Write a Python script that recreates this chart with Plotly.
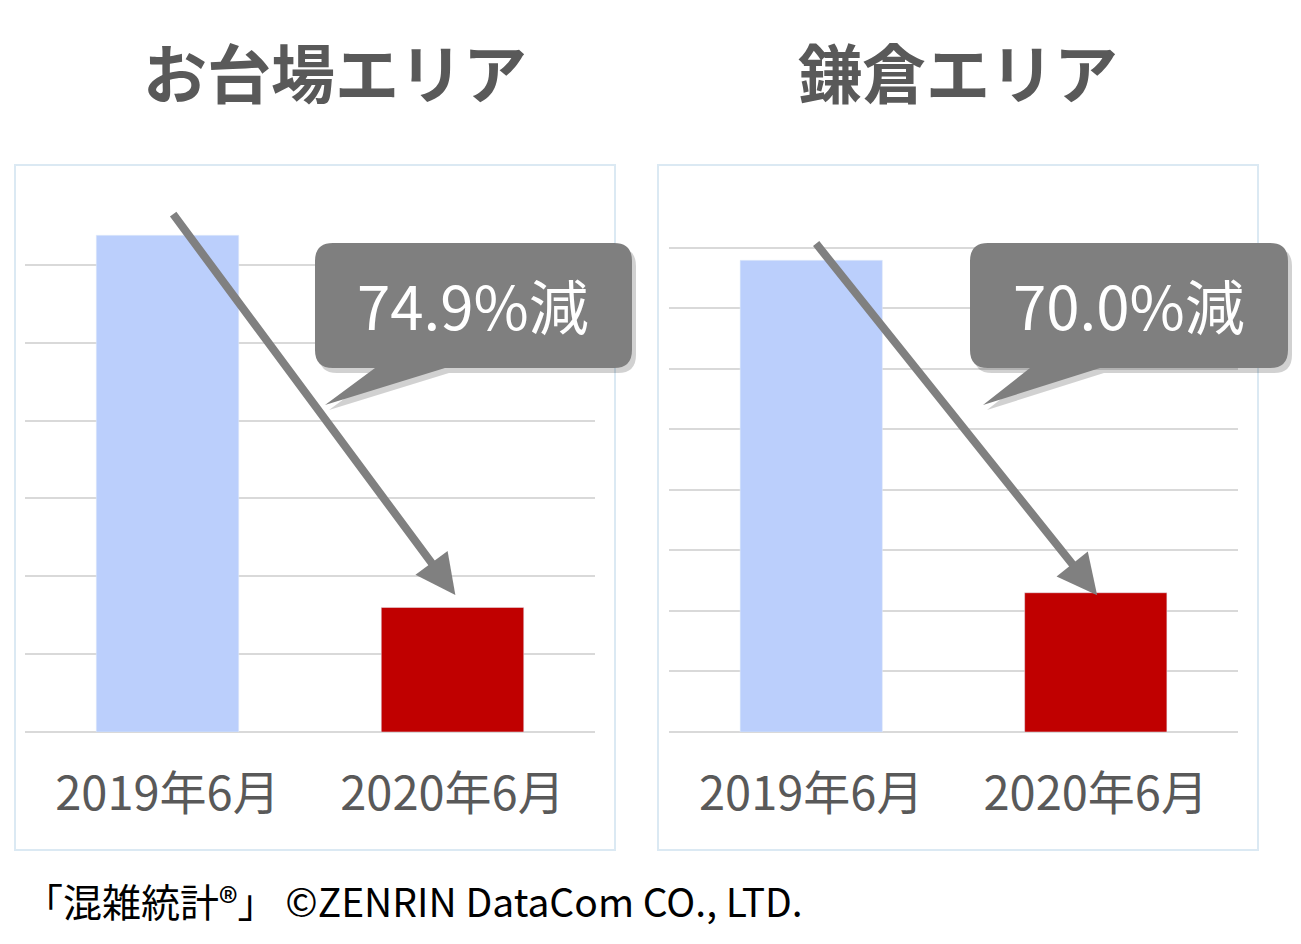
import plotly.graph_objects as go

W, H = 1293, 936
OFF = 8
categories = ["2019年6月", "2020年6月"]
odaiba_values = [6.38, 1.60]
kamakura_values = [7.79, 2.30]
titles = ["お台場エリア", "鎌倉エリア"]
labels = ["74.9%減", "70.0%減"]

def px(x): return (x - OFF) / W
def py(y): return 1 - (y - OFF) / H

fig = go.Figure()
fig.add_bar(x=categories, y=odaiba_values, marker_color=["#bbcffc", "#c00000"], xaxis="x", yaxis="y", width=0.5)
fig.add_bar(x=categories, y=kamakura_values, marker_color=["#bbcffc", "#c00000"], xaxis="x2", yaxis="y2", width=0.5)

ax_common = dict(showgrid=False, tickfont=dict(size=47, color="#595959", family="Noto Sans CJK JP"),
                 ticks="", ticklabelstandoff=30, showline=False)
ay_common = dict(showgrid=True, gridcolor="#d9d9d9", gridwidth=1.5, showticklabels=False, dtick=1,
                 zeroline=True, zerolinecolor="#d9d9d9", zerolinewidth=1.5)
fig.update_layout(
    width=W, height=H, margin=dict(l=0, r=0, t=0, b=0), showlegend=False,
    plot_bgcolor="white", paper_bgcolor="white",
    xaxis=dict(domain=[px(25), px(595)], **ax_common),
    xaxis2=dict(domain=[px(669), px(1238)], **ax_common),
    yaxis=dict(domain=[py(732), py(187)], range=[0, 7], **ay_common),
    yaxis2=dict(domain=[py(732), py(187)], range=[0, 9], anchor="x2", **ay_common),
)

shapes = []
for x0, x1 in [(15, 615), (658, 1258)]:
    shapes.append(dict(type="rect", xref="paper", yref="paper", x0=px(x0), x1=px(x1), y0=py(850), y1=py(165),
                       line=dict(color="#dbe9f3", width=2), layer="below"))

def callout(x0, x1, y0, y1, tx, ty, dx=0, dy=0):
    r = 18
    x0 += dx; x1 += dx; y0 += dy; y1 += dy; tx += dx; ty += dy
    pts = [("M", x0 + r, y0), ("L", x1 - r, y0), ("Q", x1, y0, x1, y0 + r), ("L", x1, y1 - r),
           ("Q", x1, y1, x1 - r, y1), ("L", x0 + 130, y1), ("L", tx, ty), ("L", x0 + 60, y1),
           ("L", x0 + r, y1), ("Q", x0, y1, x0, y1 - r), ("L", x0, y0 + r), ("Q", x0, y0, x0 + r, y0)]
    s = ""
    for p in pts:
        v = p[1:]
        coords = [f"{px(v[i]):.5f},{py(v[i+1]):.5f}" for i in range(0, len(v), 2)]
        s += p[0] + " " + " ".join(coords) + " "
    return s + "Z"

for (x0, x1, tx, ty) in [(315, 632, 325, 405), (970, 1288, 983, 405)]:
    shapes.append(dict(type="path", xref="paper", yref="paper", path=callout(x0, x1, 243, 368, tx, ty, 4, 5),
                       fillcolor="rgba(0,0,0,0.18)", line=dict(width=0)))
    shapes.append(dict(type="path", xref="paper", yref="paper", path=callout(x0, x1, 243, 368, tx, ty),
                       fillcolor="#7f7f7f", line=dict(width=0)))
fig.update_layout(shapes=shapes)

ann = []
for t, x in zip(titles, [335, 958]):
    ann.append(dict(text=f"<b>{t}</b>", x=px(x), y=py(70), xref="paper", yref="paper", showarrow=False,
                    xanchor="center", yanchor="middle",
                    font=dict(size=64, color="#595959", family="Noto Sans CJK JP")))
for t, x in zip(labels, [473, 1129]):
    ann.append(dict(text=t, x=px(x), y=py(303), xref="paper", yref="paper", showarrow=False,
                    xanchor="center", yanchor="middle",
                    font=dict(size=60, color="white", family="Noto Sans CJK JP")))
ann.append(dict(x=1.01, y=1.76, ax=0.016, ay=6.67, xref="x", yref="y", axref="x", ayref="y", text="",
                showarrow=True, arrowhead=2, arrowsize=1, arrowwidth=8, arrowcolor="#808080"))
ann.append(dict(x=1.005, y=2.26, ax=0.013, ay=8.09, xref="x2", yref="y2", axref="x2", ayref="y2", text="",
                showarrow=True, arrowhead=2, arrowsize=1, arrowwidth=8, arrowcolor="#808080"))
ann.append(dict(text="「混雑統計®」 ©ZENRIN DataCom CO., LTD.", x=px(22), y=py(900), xref="paper", yref="paper",
                xanchor="left", yanchor="middle", showarrow=False,
                font=dict(size=39, color="black", family="Noto Sans CJK JP")))
fig.update_layout(annotations=ann)
fig.write_html("out.html")
